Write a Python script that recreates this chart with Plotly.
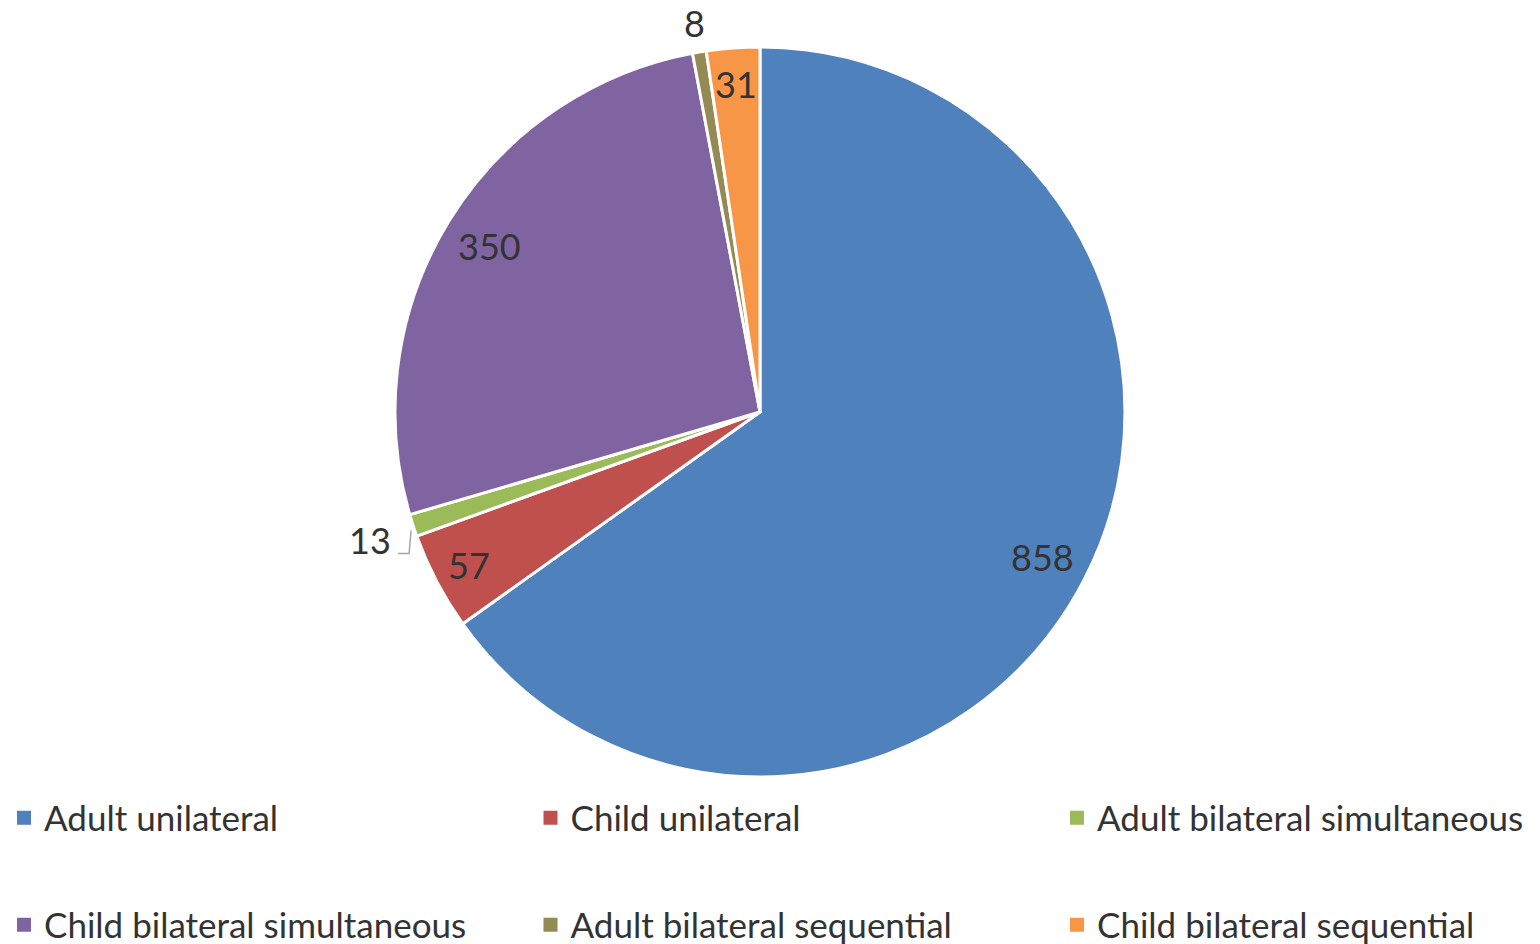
import math
import plotly.graph_objects as go

labels = ["Adult unilateral", "Child unilateral", "Adult bilateral simultaneous",
          "Child bilateral simultaneous", "Adult bilateral sequential", "Child bilateral sequential"]
values = [858, 57, 13, 350, 8, 31]
colors = ["#4F81BD", "#C0504D", "#9BBB59", "#8064A2", "#948A54", "#F79646"]
label_pos = ["inside", "inside", "outside", "inside", "outside", "inside"]

W, H = 1540, 944
OFF = 8                         # page body margin of the browser
CX, CY, R = 760 - OFF, 412 - OFF, 365
FONT = "Lato"
TXT = "#333333"
LEG_FS = 35
LBL_FS = 36
COL_X = [-4, 522.5, 1049]       # legend column left edges (px)
ROW_Y = [818 - OFF, 925 - OFF]  # legend row centres (px)

fig = go.Figure()
fig.add_trace(go.Pie(
    labels=labels,
    values=values,
    sort=False,
    direction="clockwise",
    rotation=0,
    textinfo="none",
    hoverinfo="label+value",
    showlegend=False,
    marker=dict(colors=colors, line=dict(color="white", width=3)),
    domain=dict(x=[(CX - R) / W, (CX + R) / W], y=[(H - CY - R) / H, (H - CY + R) / H]),
))

# legend entries: one small legend per entry, laid out as 2 rows x 3 columns
legend_layout = {}
for i, (lab, col) in enumerate(zip(labels, colors)):
    key = "legend" if i == 0 else f"legend{i + 1}"
    fig.add_trace(go.Scatter(
        x=[None], y=[None], mode="markers", name=lab,
        marker=dict(symbol="square", size=14, color=col),
        legend=key, hoverinfo="skip",
    ))
    r, c = divmod(i, 3)
    legend_layout[key] = dict(orientation="h", x=COL_X[c] / W, xanchor="left",
                              y=1 - ROW_Y[r] / H, yanchor="middle",
                              font=dict(family=FONT, size=LEG_FS, color=TXT),
                              bgcolor="rgba(0,0,0,0)")

# data labels placed at the mid-angle of each slice
total = sum(values)
cum = 0
annotations = []
shapes = []
for v, pos in zip(values, label_pos):
    mid = (cum + v / 2) / total * 2 * math.pi
    cum += v
    if pos == "inside":
        rf = 0.9 if v / total < 0.05 else 0.87
    else:
        rf = 1.125 if math.sin(mid) < -0.5 else 1.08
    px = CX + rf * R * math.sin(mid)
    py = CY - rf * R * math.cos(mid)
    annotations.append(dict(x=px / W, y=1 - py / H, xref="paper", yref="paper",
                            xanchor="center", yanchor="middle",
                            text=str(v), showarrow=False,
                            font=dict(family=FONT, size=LBL_FS, color=TXT)))
    if pos == "outside" and math.sin(mid) < -0.5:
        ex = CX + R * math.sin(mid)
        ey = CY - R * math.cos(mid)
        pts = [(ex - 2, ey + 5), (ex - 4, ey + 28), (ex - 15, ey + 28)]
        path = "M " + " L ".join(f"{x / W},{1 - y / H}" for x, y in pts)
        shapes.append(dict(type="path", path=path, xref="paper", yref="paper",
                           line=dict(color="#A6A6A6", width=1.5)))

fig.update_layout(
    width=W, height=H,
    margin=dict(l=0, r=0, t=0, b=0, autoexpand=False),
    paper_bgcolor="white",
    plot_bgcolor="white",
    font=dict(family=FONT, size=LEG_FS, color=TXT),
    annotations=annotations,
    shapes=shapes,
    xaxis=dict(visible=False),
    yaxis=dict(visible=False),
    **legend_layout,
)

fig.write_html("out.html")
